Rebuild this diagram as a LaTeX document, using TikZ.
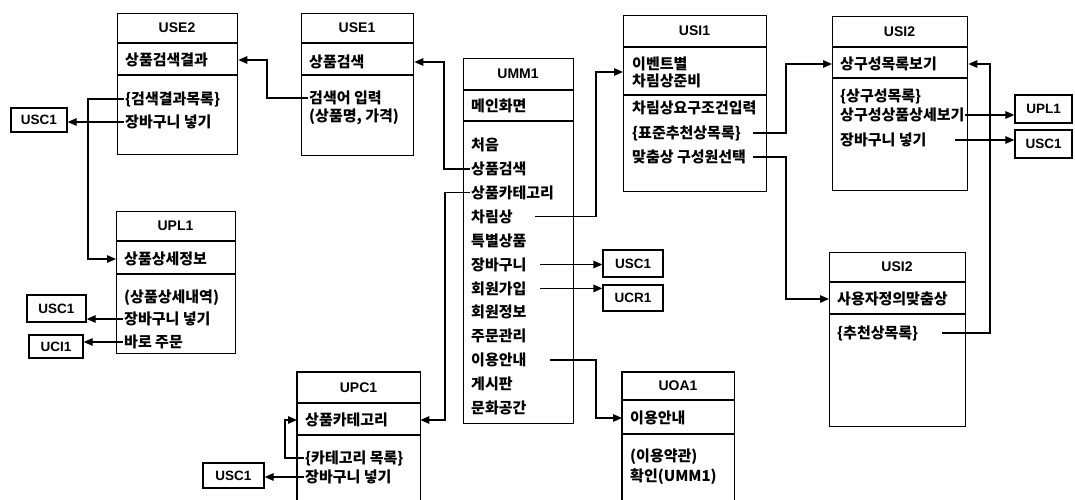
\documentclass[tikz,border=0pt]{standalone}
\usepackage{fontspec}
\setmainfont{Liberation Sans}
\newfontfamily\kr{Noto Sans CJK KR}
\usetikzlibrary{arrows.meta}
\tikzset{
  boxline/.style={line width=1.3pt},
  itemtext/.style={anchor=west, inner sep=1pt, font=\kr\bfseries\fontsize{15}{17}\selectfont},
  titletext/.style={inner sep=1pt, font=\bfseries\fontsize{14}{16}\selectfont},
  smallbox/.style={draw, line width=1.3pt, inner sep=0pt, font=\bfseries\fontsize{13.5}{15}\selectfont},
  conn/.style={line width=1.3pt},
  arr/.style={conn, -{Triangle[length=9pt,width=7.5pt]}}
}
% name, left, top, right, bottom, line1, line2, title
\newcommand\classbox[8]{%
  \node[draw, boxline, anchor=north west, inner sep=0pt,
        minimum width={(#4-#2)*1pt}, minimum height={(#5-#3)*1pt}] (#1) at (#2,#3) {};
  \draw[boxline] (#2,#6) -- (#4,#6);
  \draw[boxline] (#2,#7) -- (#4,#7);
  \node[titletext] (#1-t) at ({(#2+#4)/2},{(#3+#6)/2}) {#8};
}
\newcommand\openbox[8]{%
  \node[anchor=north west, inner sep=0pt,
        minimum width={(#4-#2)*1pt}, minimum height={(#5-#3)*1pt}] (#1) at (#2,#3) {};
  \draw[boxline] (#1.south west) -- (#1.north west) -- (#1.north east) -- (#1.south east);
  \draw[boxline] (#2,#6) -- (#4,#6);
  \draw[boxline] (#2,#7) -- (#4,#7);
  \node[titletext] (#1-t) at ({(#2+#4)/2},{(#3+#6)/2}) {#8};
}
\begin{document}
\begin{tikzpicture}[x=1pt,y=-1pt]
\useasboundingbox (0,0) rectangle (1075,500);

% class boxes
\classbox{use2}{117}{13}{237}{154}{43}{75}{USE2}
\classbox{use1}{301}{13}{413}{155}{43}{75}{USE1}
\classbox{upl1}{116}{211}{235}{353}{241}{274}{UPL1}
\classbox{umm}{463}{58}{573}{423}{90}{121}{UMM1}
\classbox{usi1}{623}{15}{766}{191}{47}{95}{USI1}
\classbox{usi2a}{832}{16}{967}{190}{47}{78}{USI2}
\classbox{usi2b}{829}{252}{965}{426}{282}{314}{USI2}
\openbox{upc1}{297}{372}{420}{500}{403}{435}{UPC1}
\openbox{uoa1}{622}{372}{734}{500}{400}{434}{UOA1}

% small boxes
\node[smallbox, minimum width=56pt, minimum height=24pt] (usc1a) at (39,120) {USC1};
\node[smallbox, minimum width=59pt, minimum height=27pt] (usc1b) at (56.5,308.5) {USC1};
\node[smallbox, minimum width=54pt, minimum height=23pt] (uci1) at (56,346.5) {UCI1};
\node[smallbox, minimum width=61pt, minimum height=25pt] (usc1c) at (233.5,475.5) {USC1};
\node[smallbox, minimum width=60pt, minimum height=27pt] (usc1d) at (633,263.5) {USC1};
\node[smallbox, minimum width=60pt, minimum height=26pt] (ucr1) at (633,298) {UCR1};
\node[smallbox, minimum width=57pt, minimum height=28pt] (upl1b) at (1043.5,109) {UPL1};
\node[smallbox, minimum width=57pt, minimum height=28pt] (usc1e) at (1043.5,144) {USC1};

% texts
\node[itemtext] (use2-a) at (124,60) {상품검색결과};
\node[itemtext] (use2-b) at (124,99) {\{검색결과목록\}};
\node[itemtext] (use2-c) at (124,122) {장바구니 넣기};

\node[itemtext] (use1-a) at (308,62) {상품검색};
\node[itemtext] (use1-b) at (308,98) {검색어 입력};
\node[itemtext] (use1-c) at (308,117) {(상품명, 가격)};

\node[itemtext] (upl1-a) at (123,259) {상품상세정보};
\node[itemtext] (upl1-b) at (123,298) {(상품상세내역)};
\node[itemtext] (upl1-c) at (123,319) {장바구니 넣기};
\node[itemtext] (upl1-d) at (123,342) {바로 주문};

\node[itemtext] (umm-a) at (470,106) {메인화면};
\foreach \t [count=\i] in {처음,상품검색,상품카테고리,차림상,특별상품,장바구니,회원가입,회원정보,주문관리,이용안내,게시판,문화공간}
  \node[itemtext] (umm-\i) at (470,{145+23.9*(\i-1)}) {\t};

\node[itemtext, align=left] (usi1-a) at (631,72) {이벤트별\\차림상준비};
\node[itemtext] (usi1-b) at (631,108) {차림상요구조건입력};
\node[itemtext] (usi1-c) at (631,133) {\{표준추천상목록\}};
\node[itemtext] (usi1-d) at (631,157) {맞춤상 구성원선택};

\node[itemtext] (usi2a-a) at (839,64) {상구성목록보기};
\node[itemtext] (usi2a-b) at (839,96) {\{상구성목록\}};
\node[itemtext] (usi2a-c) at (839,115) {상구성상품상세보기};
\node[itemtext] (usi2a-d) at (839,140) {장바구니 넣기};

\node[itemtext] (usi2b-a) at (836,299) {사용자정의맞춤상};
\node[itemtext] (usi2b-b) at (836,333) {\{추천상목록\}};

\node[itemtext] (upc1-a) at (304,420) {상품카테고리};
\node[itemtext] (upc1-b) at (304,458) {\{카테고리 목록\}};
\node[itemtext] (upc1-c) at (304,477) {장바구니 넣기};

\node[itemtext] (uoa1-a) at (629,418) {이용안내};
\node[itemtext] (uoa1-b) at (629,457) {(이용약관)};
\node[itemtext] (uoa1-c) at (629,477) {확인(UMM1)};

% column coordinates
\coordinate (cA) at (535,0);
\coordinate (cB) at (596,0);
\coordinate (cC) at (540,0);
\coordinate (cD) at (550,0);
\coordinate (cE) at (753,0);
\coordinate (cF) at (786,0);
\coordinate (cG) at (965,0);
\coordinate (cH) at (955,0);
\coordinate (cI) at (942,0);
\coordinate (cJ) at (990,0);

% connectors
\draw[arr] (use1-b.west) -- ++(-41,0) |- (use2-a -| use2.east);
\draw[arr] (umm-2.west) -- ++(-26,0) |- (use1-a -| use1.east);
\draw[arr] (umm-3.west) -- ++(-25,0) |- (upc1-a -| upc1.east);
\draw[arr] (use2-b.west) -- ++(-36,0) |- (upl1-a -| upl1.west);
\draw[arr] (use2-c.west) -- (use2-c.west -| usc1a.east);
\draw[arr] (upl1-c.west) -- (upl1-c.west -| usc1b.east);
\draw[arr] (upl1-d.west) -- (upl1-d.west -| uci1.east);
\draw[arr] (upc1-b.west) -- ++(-19,0) |- (upc1-a -| upc1.west);
\draw[arr] (upc1-c.west) -- (upc1-c.west -| usc1c.east);
\draw[arr] (umm-4 -| cA) -- (umm-4 -| cB) |- (usi1-a -| usi1.west);
\draw[arr] (umm-6 -| cC) -- (umm-6 -| usc1d.west);
\draw[arr] (umm-7 -| cC) -- (umm-7 -| ucr1.west);
\draw[arr] (umm-10 -| cD) -- (umm-10 -| cB) |- (uoa1-a -| uoa1.west);
\draw[arr] (usi1-c -| cE) -- (usi1-c -| cF) |- (usi2a-a -| usi2a.west);
\draw[arr] (usi1-d -| cE) -- (usi1-d -| cF) |- (usi2b-a -| usi2b.west);
\draw[arr] (usi2a-c -| cG) -- (usi2a-c -| upl1b.west);
\draw[arr] (usi2a-d -| cH) -- (usi2a-d -| usc1e.west);
\draw[arr] (usi2b-b -| cI) -- (usi2b-b -| cJ) |- (usi2a-a -| usi2a.east);
\end{tikzpicture}
\end{document}
